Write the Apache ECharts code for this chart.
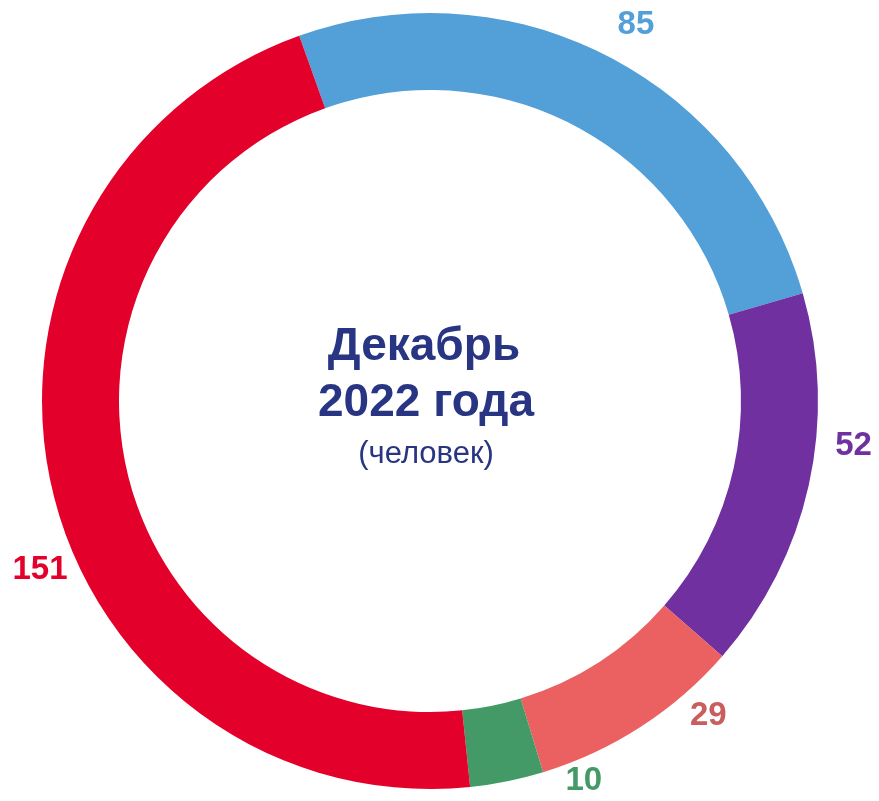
<!DOCTYPE html>
<html>
<head>
<meta charset="utf-8">
<script src="https://cdn.jsdelivr.net/npm/echarts@6/dist/echarts.min.js"></script>
<style>
  html, body { margin: 0; padding: 0; background: #fff; }
  #chart { width: 879px; height: 801px; }
</style>
</head>
<body>
<div id="chart"></div>
<script>
// data
var categories = ["Синие", "Фиолетовые", "Розовые", "Зелёные", "Красные"];
var values = [85, 52, 29, 10, 151];
var colors = ["#539FD7", "#7030A0", "#EB6060", "#449A66", "#E3002A"];
var labelColors = ["#539FD7", "#7030A0", "#C85E5E", "#449A66", "#E3002A"];

var cx = 430, cy = 401;
var startAngle = 109.7;
// label placement: nudge (deg) from slice middle, distance from center
var labelNudge = [-1.6, 6.4, 8.6, 10.6, 10.6];
var labelDist = [429, 426, 420, 410, 425];

var total = values.reduce(function (a, b) { return a + b; }, 0);
var midAngles = [];
var acc = 0;
values.forEach(function (v) {
  midAngles.push(startAngle - (acc + v / 2) / total * 360);
  acc += v;
});

var chart = echarts.init(document.getElementById("chart"));

var seriesData = values.map(function (v, i) {
  return {
    name: categories[i],
    value: v,
    itemStyle: { color: colors[i] },
    label: { color: labelColors[i] }
  };
});

var titleFont = "'Liberation Sans', Arial, sans-serif";

chart.setOption({
  animation: false,
  graphic: [
    {
      type: "text",
      x: 424,
      y: 347,
      style: {
        text: "Декабрь",
        align: "center",
        verticalAlign: "middle",
        font: "bold 46px " + titleFont,
        fill: "#283583"
      }
    },
    {
      type: "text",
      x: 426,
      y: 403,
      style: {
        text: "2022 года",
        align: "center",
        verticalAlign: "middle",
        font: "bold 46px " + titleFont,
        fill: "#283583"
      }
    },
    {
      type: "text",
      x: 426,
      y: 454,
      style: {
        text: "(человек)",
        align: "center",
        verticalAlign: "middle",
        font: "31px " + titleFont,
        fill: "#283583"
      }
    }
  ],
  series: [
    {
      type: "pie",
      center: [cx, cy],
      radius: [311, 388],
      startAngle: startAngle,
      clockwise: true,
      avoidLabelOverlap: false,
      label: {
        show: true,
        position: "outside",
        formatter: "{c}",
        fontFamily: "Liberation Sans",
        fontWeight: "bold",
        fontSize: 33
      },
      labelLine: { show: false },
      labelLayout: function (params) {
        var i = params.dataIndex;
        var a = (midAngles[i] + labelNudge[i]) * Math.PI / 180;
        return {
          x: cx + labelDist[i] * Math.cos(a),
          y: cy - labelDist[i] * Math.sin(a),
          align: "center",
          verticalAlign: "middle"
        };
      },
      data: seriesData
    }
  ]
});
</script>
</body>
</html>
